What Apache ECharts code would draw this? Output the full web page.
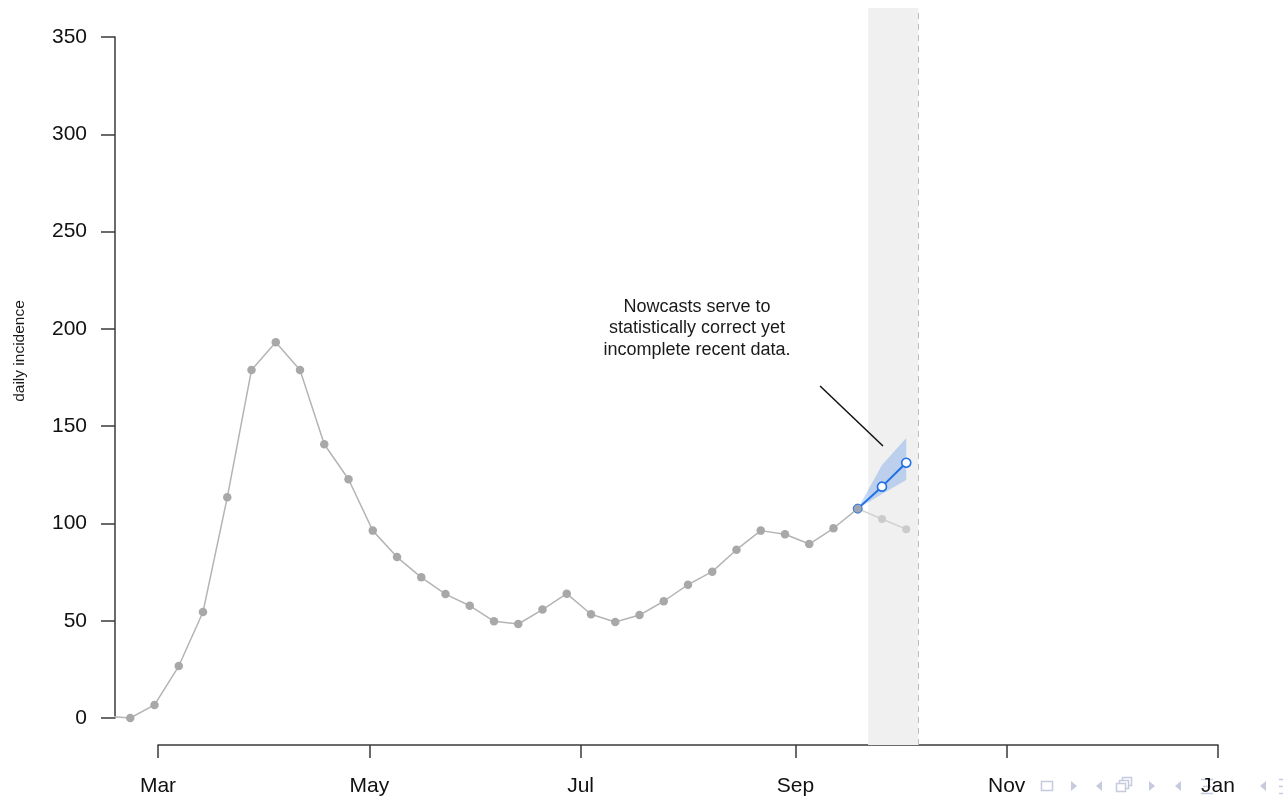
<!DOCTYPE html>
<html>
<head>
<meta charset="utf-8">
<script src="https://cdn.jsdelivr.net/npm/echarts@6/dist/echarts.min.js"></script>
<style>
html,body{margin:0;padding:0;background:#fff;}
#chart{width:1283px;height:801px;}
</style>
</head>
<body>
<div id="chart"></div>
<script>
// ---- data ----
const dates = ['2020-02-15','2020-02-22','2020-02-29','2020-03-07','2020-03-14','2020-03-21','2020-03-28',
  '2020-04-04','2020-04-11','2020-04-18','2020-04-25','2020-05-02','2020-05-09','2020-05-16','2020-05-23',
  '2020-05-30','2020-06-06','2020-06-13','2020-06-20','2020-06-27','2020-07-04','2020-07-11','2020-07-18',
  '2020-07-25','2020-08-01','2020-08-08','2020-08-15','2020-08-22','2020-08-29','2020-09-05','2020-09-12',
  '2020-09-19'];
const observed = [1, 0, 6.7, 26.7, 54.5, 113.4, 178.9, 193.1, 178.9, 140.7, 122.7, 96.3, 82.7, 72.3, 63.7,
  57.7, 49.7, 48.3, 55.7, 63.9, 53.3, 49.3, 52.9, 60.0, 68.5, 75.2, 86.5, 96.3, 94.4, 89.4, 97.5, 107.6];
const recentDates = ['2020-09-19','2020-09-26','2020-10-03'];
const recentReported = [107.6, 102.3, 97.0];
const nowcast = [107.6, 118.9, 131.2];
const nowcastLower = [107.6, 115.1, 122.3];
const nowcastUpper = [107.6, 130.0, 143.9];
const shadeStart = '2020-09-22';
const nowDate = '2020-10-06 12:00';
const tickDates = ['2020-03-01','2020-05-01','2020-07-01','2020-09-01','2020-11-01','2021-01-01'];
const tickLabels = ['Mar','May','Jul','Sep','Nov','Jan'];
const yTickInterval = 50;
const annotationText = 'Nowcasts serve to\nstatistically correct yet\nincomplete recent data.';
const annotationAt = ['2020-08-03 14:00', 200.4];
const pointerFrom = ['2020-09-08 03:00', 170.6];
const pointerTo = ['2020-09-26 07:00', 139.8];

// ---- helpers ----
const ts = s => new Date(s.length === 10 ? s + 'T00:00:00' : s.replace(' ', 'T') + ':00').getTime();
const tickTs = tickDates.map(ts);
const zip = (xs, ys) => xs.map((x, i) => [ts(x), ys[i]]);
const FONT = '"Liberation Sans", Arial, Helvetica, sans-serif';
const AXIS_COLOR = '#3a3a3a';
const NAV = '#c6cade';

const chart = echarts.init(document.getElementById('chart'), null, {renderer: 'canvas'});

const bandData = recentDates.map((d, i) => [ts(d), nowcastLower[i], nowcastUpper[i]]);

const option = {
  animation: false,
  backgroundColor: '#ffffff',
  textStyle: {fontFamily: FONT},
  grid: [
    {left: 115, right: 65, top: 8, bottom: 56},          // data region
    {left: 115, width: 1, top: 37, bottom: 83},           // y axis display
    {left: 158, right: 65, top: 700, bottom: 56}          // x axis display
  ],
  xAxis: [
    {gridIndex: 0, type: 'value', min: ts('2020-02-17 14:10'), max: ts('2021-01-01'), show: false},
    {gridIndex: 1, type: 'value', show: false},
    {gridIndex: 2, type: 'value', min: tickTs[0], max: tickTs[tickTs.length - 1],
      axisLine: {show: true, lineStyle: {color: AXIS_COLOR, width: 1.5}},
      axisTick: {show: true, inside: false, length: 13, customValues: tickTs,
        lineStyle: {color: AXIS_COLOR, width: 1.5}},
      axisLabel: {show: true, margin: 31, fontSize: 21, color: '#111', fontFamily: FONT,
        customValues: tickTs, hideOverlap: false, showMinLabel: true, showMaxLabel: true,
        formatter: v => {
          let best = 0;
          tickTs.forEach((t, i) => { if (Math.abs(t - v) < Math.abs(tickTs[best] - v)) best = i; });
          return tickLabels[best];
        }},
      splitLine: {show: false}}
  ],
  yAxis: [
    {gridIndex: 0, type: 'value', min: -13.88, max: 364.9, show: false},
    {gridIndex: 1, type: 'value', min: 0, max: 350, interval: yTickInterval, position: 'left',
      axisLine: {show: true, lineStyle: {color: AXIS_COLOR, width: 1.5}},
      axisTick: {show: true, inside: false, length: 14, lineStyle: {color: AXIS_COLOR, width: 1.5}},
      axisLabel: {show: true, margin: 28, fontSize: 21, color: '#111', fontFamily: FONT},
      splitLine: {show: false}},
    {gridIndex: 2, type: 'value', show: false}
  ],
  series: [
    { // shaded "now" region + dashed now line (attached to the lighter recent series)
      type: 'line', xAxisIndex: 0, yAxisIndex: 0, z: 1,
      data: recentDates.map((d, i) => ({value: [ts(d), recentReported[i]], symbol: i === 0 ? 'none' : 'circle'})),
      symbolSize: 8, showAllSymbol: true,
      lineStyle: {color: '#d2d2d2', width: 1.5},
      itemStyle: {color: '#cbcbcb', borderWidth: 0},
      markArea: {silent: true, itemStyle: {color: '#f0f0f0'},
        data: [[{xAxis: ts(shadeStart)}, {xAxis: ts(nowDate)}]]},
      markLine: {silent: true, symbol: 'none', label: {show: false},
        lineStyle: {color: '#bdbdbd', type: [6, 5], width: 1},
        data: [{xAxis: ts(nowDate)}]}
    },
    { // nowcast uncertainty ribbon
      type: 'custom', xAxisIndex: 0, yAxisIndex: 0, z: 2, silent: true,
      data: bandData,
      renderItem: (params, api) => {
        if (params.dataIndex !== 0) return null;
        const upper = bandData.map(p => api.coord([p[0], p[2]]));
        const lower = bandData.map(p => api.coord([p[0], p[1]])).reverse();
        return {type: 'polygon', shape: {points: upper.concat(lower)},
          style: {fill: 'rgba(40,115,230,0.26)'}};
      }
    },
    { // observed data
      type: 'line', xAxisIndex: 0, yAxisIndex: 0, z: 4,
      data: zip(dates, observed),
      symbol: 'circle', symbolSize: 8.5, showAllSymbol: true, clip: true,
      lineStyle: {color: '#b4b4b4', width: 1.5},
      itemStyle: {color: '#a8a8a8', borderWidth: 0}
    },
    { // nowcast
      type: 'line', xAxisIndex: 0, yAxisIndex: 0, z: 5,
      data: recentDates.map((d, i) => i === 0
        ? {value: [ts(d), nowcast[i]], symbol: 'circle', itemStyle: {color: '#9ea6b4', borderColor: '#2a6fdc', borderWidth: 1}}
        : {value: [ts(d), nowcast[i]], symbol: 'circle', itemStyle: {color: '#ffffff', borderColor: '#1f6fe6', borderWidth: 1.6}}),
      symbolSize: 9, showAllSymbol: true,
      lineStyle: {color: '#1f6fe6', width: 2},
      markLine: {silent: true, symbol: 'none', label: {show: false},
        lineStyle: {color: '#111', type: 'solid', width: 1.5},
        data: [[{coord: [ts(pointerFrom[0]), pointerFrom[1]]}, {coord: [ts(pointerTo[0]), pointerTo[1]]}]]},
      markPoint: {silent: true, symbol: 'circle', symbolSize: 0,
        label: {show: true, position: 'inside', formatter: annotationText, fontSize: 18, lineHeight: 21.5,
          color: '#1a1a1a', align: 'center', verticalAlign: 'middle', fontFamily: FONT},
        data: [{coord: [ts(annotationAt[0]), annotationAt[1]]}]}
    }
  ],
  graphic: [
    {type: 'text', x: 20, y: 351, rotation: Math.PI / 2, z: 10,
      style: {text: 'daily incidence', font: '15.5px ' + FONT, fill: '#1a1a1a', align: 'center', verticalAlign: 'middle'}},
    // beamer navigation symbols
    {type: 'rect', z: 0, shape: {x: 1041.5, y: 781.5, width: 11, height: 9}, style: {fill: 'none', stroke: NAV, lineWidth: 1.5}},
    {type: 'polygon', z: 0, shape: {points: [[1071, 781], [1077, 786], [1071, 791]]}, style: {fill: NAV}},
    {type: 'polygon', z: 0, shape: {points: [[1102, 781], [1096, 786], [1102, 791]]}, style: {fill: NAV}},
    {type: 'rect', z: 0, shape: {x: 1116.5, y: 783.5, width: 9, height: 8}, style: {fill: '#fff', stroke: NAV, lineWidth: 1.5}},
    {type: 'polyline', z: 0, shape: {points: [[1119.5, 783.5], [1119.5, 780.5], [1128.5, 780.5], [1128.5, 788.5], [1125.5, 788.5]]}, style: {fill: 'none', stroke: NAV, lineWidth: 1.5}},
    {type: 'polyline', z: 0, shape: {points: [[1122.5, 780.5], [1122.5, 777.5], [1131.5, 777.5], [1131.5, 785.5], [1128.5, 785.5]]}, style: {fill: 'none', stroke: NAV, lineWidth: 1.5}},
    {type: 'polygon', z: 0, shape: {points: [[1149, 781], [1155, 786], [1149, 791]]}, style: {fill: NAV}},
    {type: 'polygon', z: 0, shape: {points: [[1181, 781], [1175, 786], [1181, 791]]}, style: {fill: NAV}},
    {type: 'polyline', z: 0, shape: {points: [[1201, 779.5], [1213, 779.5]]}, style: {stroke: NAV, lineWidth: 1.5}},
    {type: 'polyline', z: 0, shape: {points: [[1203, 786.5], [1211, 786.5]]}, style: {stroke: NAV, lineWidth: 1.5}},
    {type: 'polyline', z: 0, shape: {points: [[1201, 793.5], [1213, 793.5]]}, style: {stroke: NAV, lineWidth: 1.5}},
    {type: 'polygon', z: 0, shape: {points: [[1266, 781], [1260, 786], [1266, 791]]}, style: {fill: NAV}},
    {type: 'polyline', z: 0, shape: {points: [[1279, 779.5], [1283, 779.5]]}, style: {stroke: NAV, lineWidth: 1.5}},
    {type: 'polyline', z: 0, shape: {points: [[1279, 786.5], [1283, 786.5]]}, style: {stroke: NAV, lineWidth: 1.5}},
    {type: 'polyline', z: 0, shape: {points: [[1279, 793.5], [1283, 793.5]]}, style: {stroke: NAV, lineWidth: 1.5}}
  ]
};
chart.setOption(option);
</script>
</body>
</html>
